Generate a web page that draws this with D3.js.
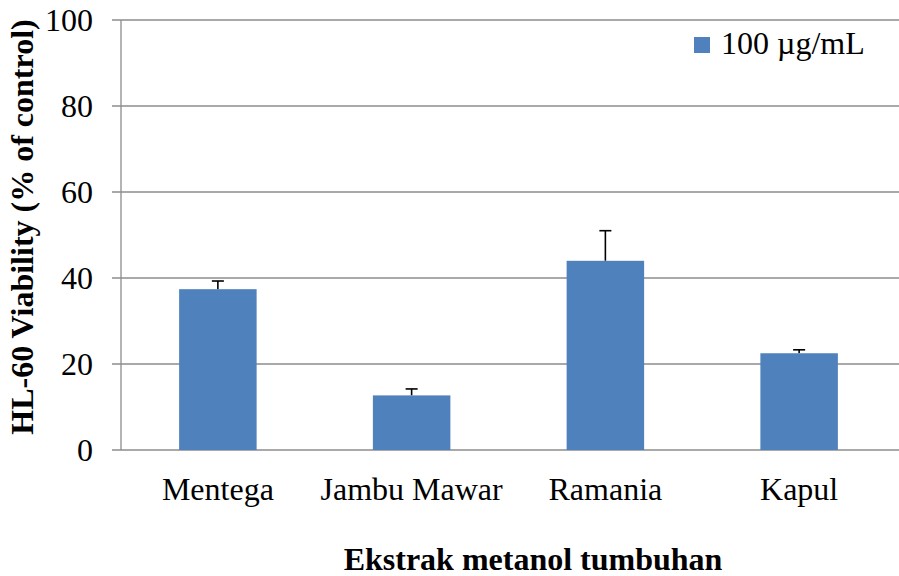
<!DOCTYPE html>
<html>
<head>
<meta charset="utf-8">
<script src="https://cdn.jsdelivr.net/npm/d3@7"></script>
<style>
  body { margin: 0; background: #fff; }
  text { font-family: "Liberation Serif", "Times New Roman", serif; fill: #000; }
</style>
</head>
<body>
<script>
// data
let categories = ['Mentega', 'Jambu Mawar', 'Ramania', 'Kapul']
let viability = [37.4, 12.7, 44.0, 22.5]
let errorUp = [1.9, 1.5, 7.0, 0.8]
let yTicks = [0, 20, 40, 60, 80, 100]
let seriesName = '100 µg/mL'

let width = 899
let height = 576
let margin = { left: 121, right: 3, top: 20, bottom: 126 }
let fontSize = '32px'

let svg = d3.select('body').append('svg')
  .attr('width', width)
  .attr('height', height)

let x = d3.scaleBand()
  .domain(categories)
  .range([margin.left, width - margin.right])
  .paddingInner(0.6)
  .paddingOuter(0.3)

let y = d3.scaleLinear()
  .domain([0, 100])
  .range([height - margin.bottom, margin.top])

// gridlines
svg.append('g')
  .selectAll('line')
  .data(yTicks)
  .enter()
  .append('line')
  .attr('x1', margin.left - 9)
  .attr('x2', width)
  .attr('y1', d => y(d))
  .attr('y2', d => y(d))
  .style('stroke', '#8c8c8c')
  .style('stroke-width', 1.3)

// y axis line
svg.append('line')
  .attr('x1', margin.left).attr('x2', margin.left)
  .attr('y1', y(100)).attr('y2', y(0))
  .style('stroke', '#8c8c8c')
  .style('stroke-width', 1.3)

// y tick labels
svg.append('g')
  .selectAll('text')
  .data(yTicks)
  .enter()
  .append('text')
  .attr('x', 93)
  .attr('y', d => y(d))
  .attr('dy', '0.34em')
  .attr('text-anchor', 'end')
  .style('font-size', fontSize)
  .text(d => d)

let data = categories.map((c, i) => ({ name: c, value: viability[i], err: errorUp[i] }))

// error bars (only the upper half shows above the bar)
let eb = svg.append('g')
data.forEach(d => {
  let cx = x(d.name) + x.bandwidth() / 2
  eb.append('line')
    .attr('x1', cx).attr('x2', cx)
    .attr('y1', y(d.value)).attr('y2', y(d.value + d.err))
    .style('stroke', '#000').style('stroke-width', 1.6)
  eb.append('line')
    .attr('x1', cx - 6).attr('x2', cx + 6)
    .attr('y1', y(d.value + d.err)).attr('y2', y(d.value + d.err))
    .style('stroke', '#000').style('stroke-width', 1.6)
})

// bars
svg.append('g')
  .selectAll('rect')
  .data(data)
  .enter()
  .append('rect')
  .attr('x', d => x(d.name))
  .attr('y', d => y(d.value))
  .attr('width', x.bandwidth())
  .attr('height', d => y(0) - y(d.value))
  .style('fill', '#4f81bd')

// category labels
svg.append('g')
  .selectAll('text')
  .data(categories)
  .enter()
  .append('text')
  .attr('x', d => x(d) + x.bandwidth() / 2)
  .attr('y', 500)
  .attr('text-anchor', 'middle')
  .style('font-size', fontSize)
  .text(d => d)

// axis titles
svg.append('text')
  .attr('x', 533)
  .attr('y', 570)
  .attr('text-anchor', 'middle')
  .style('font-size', fontSize)
  .style('font-weight', 'bold')
  .text('Ekstrak metanol tumbuhan')

svg.append('text')
  .attr('transform', 'translate(33,227) rotate(-90)')
  .attr('text-anchor', 'middle')
  .style('font-size', fontSize)
  .style('font-weight', 'bold')
  .text('HL-60 Viability (% of control)')

// legend
svg.append('rect')
  .attr('x', 694).attr('y', 37)
  .attr('width', 16).attr('height', 16)
  .style('fill', '#4f81bd')
svg.append('text')
  .attr('x', 721).attr('y', 54)
  .style('font-size', fontSize)
  .text(seriesName)
</script>
</body>
</html>
